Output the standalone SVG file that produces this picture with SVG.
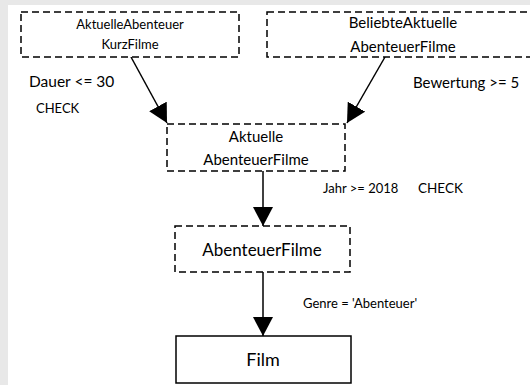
<svg xmlns="http://www.w3.org/2000/svg" width="530" height="385" viewBox="0 0 530 385">
<defs>
<style>
text{font-family:Lato,"Open Sans","Liberation Sans",sans-serif;fill:#000;text-anchor:middle}
.dash{fill:#fff;stroke:#000;stroke-width:1.5;stroke-dasharray:7,4}
.solid{fill:#fff;stroke:#000;stroke-width:1.5}
.lbl{text-anchor:start}
.conn{stroke:#000;stroke-width:1.5;fill:none;marker-end:url(#ah)}
</style>
<marker id="ah" markerUnits="userSpaceOnUse" markerWidth="20" markerHeight="20" viewBox="0 0 18 18" refX="17" refY="9" orient="auto">
<path d="M0,0 L17,9 L0,18 Z" fill="#000"/>
</marker>
</defs>
<rect x="0" y="0" width="530" height="385" fill="#e8e8e8"/>
<rect x="8" y="5" width="522" height="380" fill="#fff"/>
<g id="connectors">
<line class="conn" x1="131" y1="57" x2="167" y2="123"/>
<line class="conn" x1="385" y1="57" x2="347" y2="123"/>
<line class="conn" x1="263" y1="171" x2="263" y2="226"/>
<line class="conn" x1="263" y1="272" x2="263" y2="336"/>
</g>
<g id="n1">
<rect class="dash" x="21" y="12" width="218" height="45"/>
<text x="130" y="29" font-size="13">AktuelleAbenteuer</text>
<text x="130" y="49" font-size="13">KurzFilme</text>
</g>
<g id="n2">
<rect class="dash" x="267" y="12" width="270" height="45"/>
<text x="403" y="28" font-size="15">BeliebteAktuelle</text>
<text x="403" y="52" font-size="15">AbenteuerFilme</text>
</g>
<g id="n3">
<rect class="dash" x="167" y="124" width="178" height="47"/>
<text x="256" y="142" font-size="15">Aktuelle</text>
<text x="256" y="165" font-size="15">AbenteuerFilme</text>
</g>
<g id="n4">
<rect class="dash" x="175" y="226" width="175" height="46"/>
<text x="262" y="256" font-size="17">AbenteuerFilme</text>
</g>
<g id="n5">
<rect class="solid" x="176" y="336" width="175" height="47"/>
<text x="263" y="366" font-size="18">Film</text>
</g>
<g id="labels">
<text class="lbl" x="29" y="87" font-size="15.5">Dauer &lt;= 30</text>
<text class="lbl" x="36" y="113" font-size="13">CHECK</text>
<text class="lbl" x="413" y="88" font-size="15">Bewertung &gt;= 5</text>
<text class="lbl" x="323" y="193" font-size="13">Jahr &gt;= 2018</text>
<text class="lbl" x="418" y="193" font-size="13.5">CHECK</text>
<text class="lbl" x="303" y="308" font-size="13">Genre = 'Abenteuer'</text>
</g>
</svg>
